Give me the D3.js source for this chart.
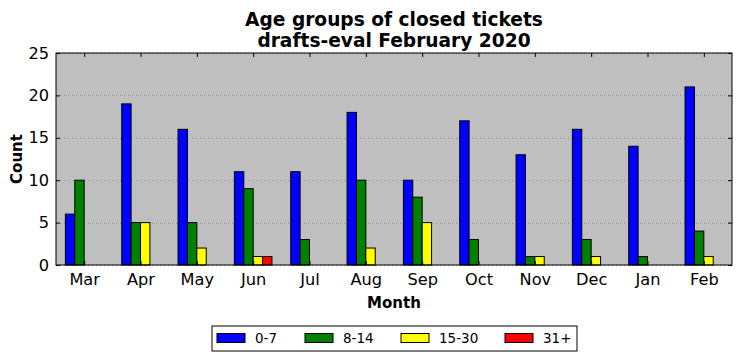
<!DOCTYPE html>
<html>
<head>
<meta charset="utf-8">
<script src="https://cdn.jsdelivr.net/npm/d3@7"></script>
<style>
  body { margin: 0; background: #fff; }
  text { font-family: "DejaVu Sans", sans-serif; }
</style>
</head>
<body>
<svg id="canvas"></svg>
<script>
const months = ['Mar', 'Apr', 'May', 'Jun', 'Jul', 'Aug', 'Sep', 'Oct', 'Nov', 'Dec', 'Jan', 'Feb'];
const groups = ['0-7', '8-14', '15-30', '31+'];
const groupColors = ['#0000ff', '#008000', '#ffff00', '#ff0000'];
const age0to7 = [6, 19, 16, 11, 11, 18, 10, 17, 13, 16, 14, 21];
const age8to14 = [10, 5, 5, 9, 3, 10, 8, 3, 1, 3, 1, 4];
const age15to30 = [0, 5, 2, 1, 0, 2, 5, 0, 1, 1, 0, 1];
const age31plus = [0, 0, 0, 1, 0, 0, 0, 0, 0, 0, 0, 0];
const yTicks = [0, 5, 10, 15, 20, 25];
const titleLines = ['Age groups of closed tickets', 'drafts-eval February 2020'];

const series = [age0to7, age8to14, age15to30, age31plus];

const width = 742;
const height = 361;
const margin = {top: 53, right: 10, bottom: 96, left: 56};
const plotW = width - margin.left - margin.right;
const plotH = height - margin.top - margin.bottom;

const canvas = d3.select('#canvas')
                 .attr('width', width)
                 .attr('height', height)

const x = d3.scaleBand()
            .domain(months)
            .range([0, plotW])
            .paddingInner(1 / 3)
            .paddingOuter(1 / 6)

const xSub = d3.scaleBand()
               .domain(groups)
               .range([0, x.bandwidth()])

const y = d3.scaleLinear()
            .domain([0, 25])
            .range([plotH, 0])

const g = canvas.append('g')
                .attr('transform', `translate(${margin.left}, ${margin.top})`)

g.append('rect')
 .attr('width', plotW)
 .attr('height', plotH)
 .attr('fill', '#bfbfbf')

// dotted grid
g.selectAll('.grid')
 .data(yTicks)
 .enter()
 .append('line')
 .attr('x1', 0)
 .attr('x2', plotW)
 .attr('y1', d => Math.round(y(d)) + 0.5)
 .attr('y2', d => Math.round(y(d)) + 0.5)
 .attr('stroke', '#808080')
 .attr('stroke-width', 0.8)
 .attr('stroke-dasharray', '1,3')

// bars
const rows = months.map((m, i) => ({month: m, values: series.map((s, j) => ({group: groups[j], value: s[i], color: groupColors[j]}))}))

g.selectAll('.month')
 .data(rows)
 .enter()
 .append('g')
 .attr('transform', d => `translate(${x(d.month)}, 0)`)
 .selectAll('rect')
 .data(d => d.values)
 .enter()
 .append('rect')
 .attr('x', d => xSub(d.group))
 .attr('y', d => y(d.value))
 .attr('width', xSub.bandwidth())
 .attr('height', d => plotH - y(d.value))
 .attr('fill', d => d.color)
 .attr('stroke', '#000')
 .attr('stroke-width', 1)

// axes (ticks pointing inward, classic style)
const xPoint = d3.scalePoint().domain(months).range([x(months[0]) + x.bandwidth() / 2, x(months[11]) + x.bandwidth() / 2])

const bottomAxis = g.append('g')
  .attr('transform', `translate(0, ${plotH})`)
  .call(d3.axisBottom(xPoint).tickSize(-4).tickPadding(8))
bottomAxis.select('.domain').remove()
bottomAxis.selectAll('text').attr('font-size', 16.2).attr('fill', '#000')

const topAxis = g.append('g')
  .call(d3.axisTop(xPoint).tickSize(-4).tickFormat(''))
topAxis.select('.domain').remove()

const leftAxis = g.append('g')
  .call(d3.axisLeft(y).tickValues(yTicks).tickSize(-4).tickPadding(7))
leftAxis.select('.domain').remove()
leftAxis.selectAll('text').attr('font-size', 16.2).attr('fill', '#000')

const rightAxis = g.append('g')
  .attr('transform', `translate(${plotW}, 0)`)
  .call(d3.axisRight(y).tickValues(yTicks).tickSize(-4).tickFormat(''))
rightAxis.select('.domain').remove()

g.append('rect')
 .attr('width', plotW)
 .attr('height', plotH)
 .attr('fill', 'none')
 .attr('stroke', '#000')
 .attr('stroke-width', 1)

// two-line title
canvas.selectAll('.title')
      .data(titleLines)
      .enter()
      .append('text')
      .attr('class', 'title')
      .attr('x', margin.left + plotW / 2)
      .attr('y', (d, i) => 25.5 + i * 21.8)
      .attr('text-anchor', 'middle')
      .attr('font-size', 18.6)
      .attr('font-weight', 'bold')
      .text(d => d)

canvas.append('text')
      .attr('x', margin.left + plotW / 2)
      .attr('y', 308)
      .attr('text-anchor', 'middle')
      .attr('font-size', 15)
      .attr('font-weight', 'bold')
      .text('Month')

canvas.append('text')
      .attr('transform', `translate(21.5, ${margin.top + plotH / 2}) rotate(-90)`)
      .attr('text-anchor', 'middle')
      .attr('font-size', 15)
      .attr('font-weight', 'bold')
      .text('Count')

// legend
const legend = canvas.append('g')
                     .attr('transform', 'translate(212, 326)')

legend.append('rect')
      .attr('width', 365)
      .attr('height', 25)
      .attr('fill', '#fff')
      .attr('stroke', '#000')
      .attr('stroke-width', 1)

const legendX = d3.scaleOrdinal().domain(groups).range([5, 93, 189, 293])

const items = legend.selectAll('.item')
  .data(groups)
  .enter()
  .append('g')
  .attr('transform', d => `translate(${legendX(d)}, 0)`)

items.append('rect')
     .attr('y', 7.5)
     .attr('width', 28)
     .attr('height', 9)
     .attr('fill', (d, i) => groupColors[i])
     .attr('stroke', '#000')
     .attr('stroke-width', 1)

items.append('text')
     .attr('x', 38)
     .attr('y', 17)
     .attr('font-size', 13.5)
     .text(d => d)
</script>
</body>
</html>
